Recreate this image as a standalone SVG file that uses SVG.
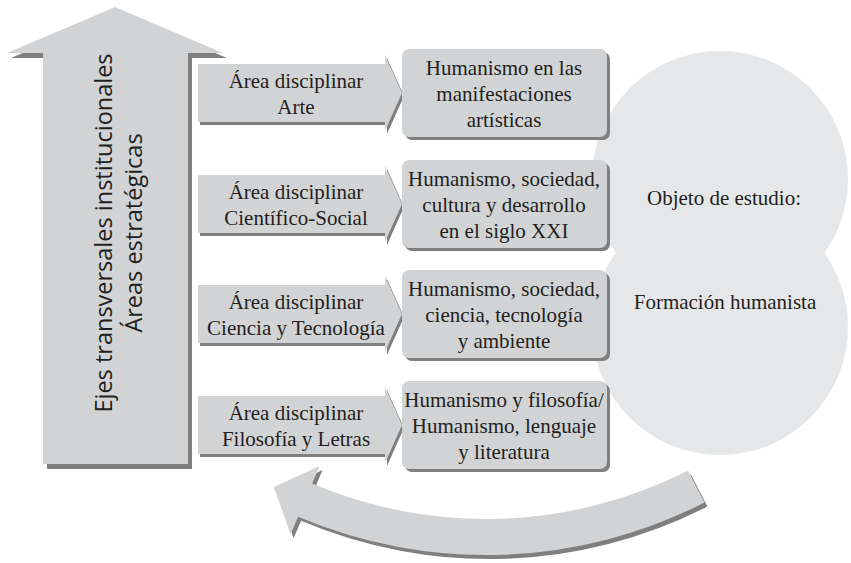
<svg xmlns="http://www.w3.org/2000/svg" width="851" height="563" viewBox="0 0 851 563">
<style>
.fill{fill:#d1d3d4}
.shd{fill:#7f7f80}
.circ{fill:#e6e7e8}
.t{font-family:"Liberation Serif","Times New Roman",serif;font-size:21px;fill:#231f20;text-anchor:middle}
.s{font-family:"Open Sans","Liberation Sans",sans-serif;font-size:23.5px;fill:#231f20;text-anchor:middle}
</style>
<defs>
<polygon id="pent" points="198,-29 385,-29 385,-38 402,0 385,38 385,29 198,29"/>
<rect id="box" x="402" y="-44" width="205" height="88" rx="7"/>
</defs>

<g id="circles">
<circle class="circ" cx="720" cy="179" r="128"/>
<circle class="circ" cx="720" cy="327" r="128"/>
<text class="t" x="724" y="205">Objeto de estudio:</text>
<text class="t" x="725" y="309">Formación humanista</text>
</g>

<g id="main-arrow">
<polygon class="shd" transform="translate(4,5)" points="115,7 223,53 188,53 188,464 43,464 43,53 7,53"/>
<polygon class="fill" points="115,7 223,53 188,53 188,464 43,464 43,53 7,53"/>
<g transform="translate(112,233) rotate(-90)">
<text class="s" x="0" y="0">Ejes transversales institucionales</text>
<text class="s" x="0" y="30">Áreas estratégicas</text>
</g>
</g>

<g id="row1" transform="translate(0,93)">
<use href="#pent" class="shd" transform="translate(2,3)"/>
<use href="#pent" class="fill"/>
<text class="t" x="296" y="-5">Área disciplinar</text>
<text class="t" x="296" y="21">Arte</text>
<use href="#box" class="shd" transform="translate(3,3)"/>
<use href="#box" class="fill"/>
<text class="t" x="504" y="-18">Humanismo en las</text>
<text class="t" x="504" y="8">manifestaciones</text>
<text class="t" x="504" y="34">artísticas</text>
</g>

<g id="row2" transform="translate(0,204)">
<use href="#pent" class="shd" transform="translate(2,3)"/>
<use href="#pent" class="fill"/>
<text class="t" x="296" y="-5">Área disciplinar</text>
<text class="t" x="296" y="21">Científico-Social</text>
<use href="#box" class="shd" transform="translate(3,3)"/>
<use href="#box" class="fill"/>
<text class="t" x="504" y="-18">Humanismo, sociedad,</text>
<text class="t" x="504" y="8">cultura y desarrollo</text>
<text class="t" x="504" y="34">en el siglo XXI</text>
</g>

<g id="row3" transform="translate(0,314)">
<use href="#pent" class="shd" transform="translate(2,3)"/>
<use href="#pent" class="fill"/>
<text class="t" x="296" y="-5">Área disciplinar</text>
<text class="t" x="296" y="21">Ciencia y Tecnología</text>
<use href="#box" class="shd" transform="translate(3,3)"/>
<use href="#box" class="fill"/>
<text class="t" x="504" y="-18">Humanismo, sociedad,</text>
<text class="t" x="504" y="8">ciencia, tecnología</text>
<text class="t" x="504" y="34">y ambiente</text>
</g>

<g id="row4" transform="translate(0,425)">
<use href="#pent" class="shd" transform="translate(2,3)"/>
<use href="#pent" class="fill"/>
<text class="t" x="296" y="-5">Área disciplinar</text>
<text class="t" x="296" y="21">Filosofía y Letras</text>
<use href="#box" class="shd" transform="translate(3,3)"/>
<use href="#box" class="fill"/>
<text class="t" x="504" y="-18">Humanismo y filosofía/</text>
<text class="t" x="504" y="8">Humanismo, lenguaje</text>
<text class="t" x="504" y="34">y literatura</text>
</g>

<g id="connectors">
<path class="shd" transform="translate(3,4)" d="M688,470.5 A445,445 0 0 1 312.1,483.6 L319.6,466.1 L273.8,486.9 L290.6,534.3 L298.1,516.8 A481,481 0 0 0 704.4,502.6 Z"/>
<path class="fill" d="M688,470.5 A445,445 0 0 1 312.1,483.6 L319.6,466.1 L273.8,486.9 L290.6,534.3 L298.1,516.8 A481,481 0 0 0 704.4,502.6 Z"/>
</g>
</svg>
